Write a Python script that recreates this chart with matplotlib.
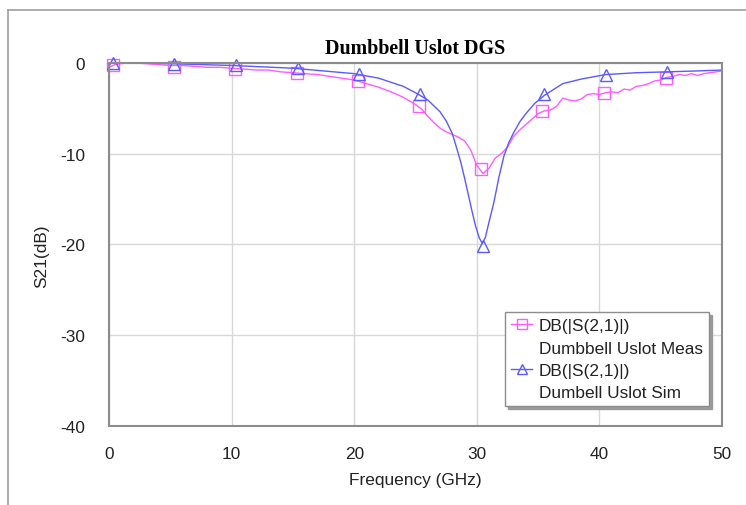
import matplotlib.pyplot as plt
from matplotlib.lines import Line2D

# ---- data ----
f_meas = [0, 0.5, 1, 1.5, 2, 3, 4, 5, 6, 7, 8, 9, 10, 11, 12, 13, 14, 15, 16, 17, 18, 19,
          20, 21, 22, 23, 24, 25, 25.5, 26, 26.5, 27, 27.5, 28, 28.5, 29, 29.5, 30, 30.5,
          31, 31.5, 32, 32.5, 33, 33.5, 34, 34.5, 35, 35.5, 36, 36.5, 37, 37.5, 38, 38.5,
          39, 39.5, 40, 40.5, 41, 41.5, 42, 42.5, 43, 43.5, 44, 44.5, 45, 45.5, 46, 46.5,
          47, 47.5, 48, 48.5, 49, 49.5, 50]
s21_meas = [-0.5, -0.2, -0.1, 0, 0, -0.1, -0.2, -0.3, -0.3, -0.4, -0.5, -0.5, -0.6, -0.7,
            -0.8, -0.8, -1.0, -1.1, -1.2, -1.3, -1.5, -1.7, -1.9, -2.3, -2.7, -3.2, -3.8,
            -4.6, -5.1, -5.9, -6.6, -7.2, -7.6, -7.9, -8.2, -8.6, -9.6, -11.3, -12.2,
            -11.6, -10.5, -10.0, -9.3, -8.1, -7.4, -6.8, -6.2, -5.6, -5.3, -5.2, -4.8,
            -3.9, -4.1, -4.2, -4.0, -3.5, -3.4, -3.5, -3.3, -3.2, -3.3, -2.9, -3.0, -2.6,
            -2.5, -2.3, -2.0, -1.9, -1.6, -1.5, -1.3, -1.4, -1.2, -1.4, -1.2, -1.1, -1.0,
            -0.9]

f_sim = [0, 2, 5, 10, 15, 20, 22, 24, 25, 26, 27, 27.5, 28, 28.4, 28.7, 29.0, 29.3, 29.65,
         29.9, 30.2, 30.45, 30.7, 31.0, 31.4, 31.8, 32.2, 32.6, 33, 33.5, 34, 34.7, 35.5,
         37, 38.5, 40.5, 43, 45.5, 48, 50]
s21_sim = [0, 0, -0.1, -0.3, -0.6, -1.2, -1.7, -2.6, -3.3, -4.1, -5.4, -6.4, -7.8, -9.6,
           -11.0, -12.7, -14.5, -16.6, -18.0, -19.3, -19.9, -19.2, -17.5, -15.3, -12.6,
           -10.3, -8.8, -7.7, -6.5, -5.6, -4.5, -3.6, -2.3, -1.8, -1.3, -1.1, -1.0, -0.9,
           -0.8]

mk_meas_f = [0.3, 5.3, 10.3, 15.3, 20.3, 25.3, 30.3, 35.3, 40.4, 45.4]
mk_meas_db = [-0.3, -0.5, -0.7, -1.1, -2.0, -4.8, -11.7, -5.3, -3.3, -1.7]
mk_sim_f = [0.3, 5.3, 10.4, 15.4, 20.4, 25.4, 30.5, 35.5, 40.5, 45.5]
mk_sim_db = [0, -0.1, -0.3, -0.6, -1.2, -3.4, -20.2, -3.4, -1.3, -1.0]

PINK = "#ff5cff"
BLUE = "#5a5aff"
TXT = "#222222"
FS = 12.4

plt.rcParams['font.family'] = ['Liberation Sans', 'DejaVu Sans']
plt.rcParams['axes.unicode_minus'] = False

fig = plt.figure(figsize=(7.46, 5.06), dpi=100)
ax = fig.add_axes([0.146, 0.156, 0.822, 0.718])

ax.plot(f_meas, s21_meas, color=PINK, lw=1.0)
ax.plot(mk_meas_f, mk_meas_db, ls="none", marker="s", ms=9, mfc="none",
        mec=PINK, mew=1.0, clip_on=False)
ax.plot(f_sim, s21_sim, color=BLUE, lw=1.0)
ax.plot(mk_sim_f, mk_sim_db, ls="none", marker="^", ms=9, mfc="none",
        mec=BLUE, mew=1.0, clip_on=False)

ax.set_xlim(0, 50)
ax.set_ylim(-40, 0)
ax.set_xticks([0, 10, 20, 30, 40, 50])
ax.set_yticks([0, -10, -20, -30, -40])
ax.tick_params(axis="y", length=0, labelsize=FS, colors=TXT, pad=17)
ax.tick_params(axis="x", length=0, labelsize=FS, colors=TXT, pad=14)
ax.grid(True, color="#d8d8d8", lw=1.0)
ax.set_axisbelow(True)
for s in ax.spines.values():
    s.set_color("#8c8c8c")
    s.set_linewidth(1.5)

ax.set_xlabel("Frequency (GHz)", fontsize=FS, color=TXT, labelpad=8)
ax.set_ylabel("S21(dB)", fontsize=FS, color=TXT)
ax.yaxis.set_label_coords(-0.098, 0.47)
ax.set_title("Dumbbell Uslot DGS", fontsize=14.4, fontweight="bold",
             family="Liberation Serif", pad=7)

# legend: first line of each label next to the marker, second line without handle
blank = Line2D([], [], ls="none")
handles = [
    Line2D([], [], color=PINK, lw=1.0, marker="s", ms=7, mfc="none", mec=PINK),
    blank,
    Line2D([], [], color=BLUE, lw=1.0, marker="^", ms=7, mfc="none", mec=BLUE),
    blank,
]
labels = ["DB(|S(2,1)|)", "Dumbbell Uslot Meas", "DB(|S(2,1)|)", "Dumbell Uslot Sim"]
leg = ax.legend(handles, labels, loc="lower right", bbox_to_anchor=(0.984, 0.045),
                fontsize=FS, handlelength=1.2, handletextpad=0.4, labelspacing=0.42,
                borderpad=0.35, borderaxespad=0.2, fancybox=False,
                shadow={"color": "#9a9a9a", "alpha": 1},
                framealpha=1, edgecolor="#8c8c8c")
leg.get_frame().set_linewidth(1.0)
for t in leg.get_texts():
    t.set_color(TXT)

# outer frame lines (left and top)
fig.add_artist(Line2D([8 / 746, 8 / 746], [0, 1 - 11 / 506], color="#a0a0a0", lw=1.2,
                      transform=fig.transFigure))
fig.add_artist(Line2D([8 / 746, 1], [1 - 11 / 506, 1 - 11 / 506], color="#a0a0a0",
                      lw=1.2, transform=fig.transFigure))

fig.savefig("out.png", dpi=100)
